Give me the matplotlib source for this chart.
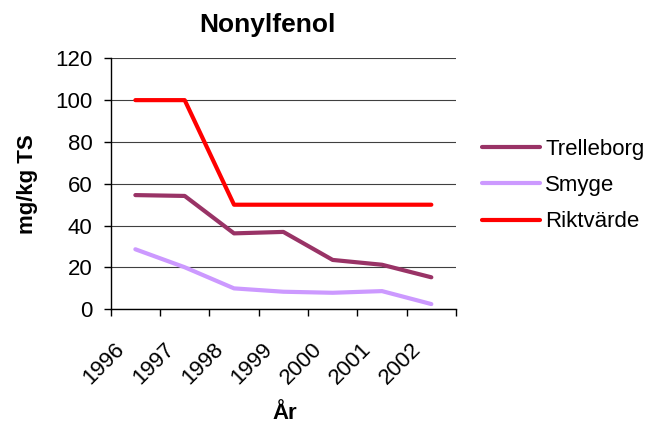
import numpy as np
import matplotlib
matplotlib.use("Agg")
import matplotlib.pyplot as plt

plt.rcParams["font.family"] = ["Liberation Sans", "DejaVu Sans"]

years = ["1996", "1997", "1998", "1999", "2000", "2001", "2002"]
trelleborg = [54.6, 54.2, 36.3, 37.0, 23.6, 21.3, 15.3]
smyge = [28.7, 20.1, 10.0, 8.4, 7.9, 8.7, 2.5]
riktvarde = [100, 100, 50, 50, 50, 50, 50]

W, H = 647, 423
fig = plt.figure(figsize=(W / 100, H / 100), dpi=100)
ax = fig.add_axes([110.7 / W, 1 - 309.3 / H, 345.3 / W, 251 / H])

x = np.arange(len(years))
ax.plot(x, trelleborg, color="#993366", lw=3.0, solid_capstyle="round", label="Trelleborg")
ax.plot(x, smyge, color="#CC99FF", lw=3.0, solid_capstyle="round", label="Smyge")
ax.plot(x, riktvarde, color="#FF0000", lw=3.0, solid_capstyle="round", label="Riktvärde")

ax.set_xlim(-0.5, len(years) - 0.5)
ax.set_ylim(0, 120)
ax.set_yticks(np.arange(0, 121, 20))
ax.yaxis.grid(True, color="#404040", lw=0.8)
ax.set_axisbelow(True)

# rotated year labels end just left of each category centre;
# the visible tick marks are the category boundaries (minor ticks)
ax.set_xticks(x - 0.43)
ax.set_xticklabels(years, rotation=45, ha="right", va="top", rotation_mode="anchor")
ax.set_xticks(np.arange(-0.5, len(years)), minor=True)
ax.tick_params(axis="x", which="major", length=0, pad=21, labelsize=16)
ax.tick_params(axis="x", which="minor", length=5, width=1)
ax.tick_params(axis="y", length=5, width=1, labelsize=16, pad=8)

for side in ["top", "right"]:
    ax.spines[side].set_visible(False)
for side in ["left", "bottom"]:
    ax.spines[side].set_linewidth(1)

fig.text(267 / W, 1 - 25 / H, "Nonylfenol", fontsize=19, fontweight="bold",
         ha="center", va="center")
fig.text(27 / W, 1 - 184 / H, "mg/kg TS", fontsize=16, fontweight="bold",
         rotation=90, ha="center", va="center")
fig.text(285 / W, 1 - 413 / H, "År", fontsize=16, fontweight="bold",
         ha="center", va="center")

ax.legend(loc="upper left", bbox_to_anchor=(471 / W, 1 - 128 / H),
          bbox_transform=fig.transFigure, frameon=False, borderpad=0,
          fontsize=16, handlelength=2.6, labelspacing=0.68, handletextpad=0.25)

fig.savefig("out.png", dpi=100)
